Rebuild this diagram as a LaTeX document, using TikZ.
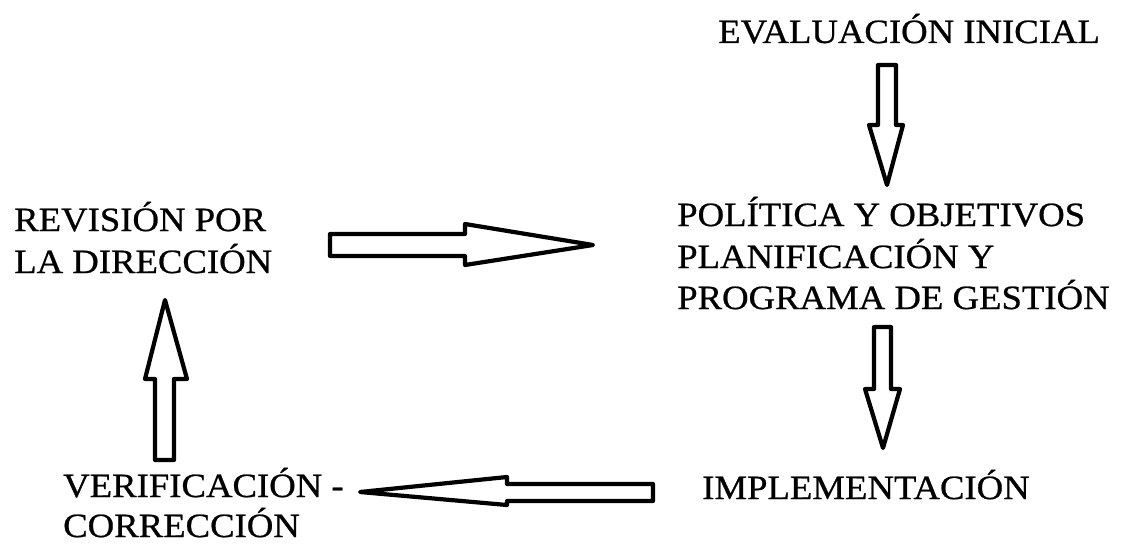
\documentclass[tikz,border=0pt]{standalone}
\usepackage{fontspec}
\setmainfont[FakeStretch=1.08,FakeBold=0.7]{Liberation Serif}
\begin{document}
\begin{tikzpicture}[x=1pt,y=-1pt,
  lbl/.style={anchor=base west,inner sep=0pt,font=\fontsize{34}{41}\selectfont},
  blockarrow/.style={draw=black,fill=white,line width=4.2pt,line join=round}]
\useasboundingbox (0,0) rectangle (1126,543);
% texts
\node[lbl] (eval) at (718,43) {EVALUACIÓN INICIAL};
\node[lbl] (rev1) at (14,231) {REVISIÓN POR};
\node[lbl] (rev2) at (14,273) {LA DIRECCIÓN};
\node[lbl] (pol1) at (677,226) {POLÍTICA Y OBJETIVOS};
\node[lbl] (pol2) at (677,268) {PLANIFICACIÓN Y};
\node[lbl] (pol3) at (677,309) {PROGRAMA DE GESTIÓN};
\node[lbl] (impl) at (702,499) {IMPLEMENTACIÓN};
\node[lbl] (ver1) at (63,497) {VERIFICACIÓN -};
\node[lbl] (ver2) at (63,537) {CORRECCIÓN};
% block arrows
% down arrow (evaluacion -> politica)
\draw[blockarrow] (878,65) -- (896,65) -- (896,125) -- (903,125) -- (887,185)
  -- (869,125) -- (878,125) -- cycle;
% right arrow (revision -> politica)
\draw[blockarrow] (330,234) -- (465,234) -- (465,224) -- (593,245)
  -- (465,265) -- (465,256) -- (330,256) -- cycle;
% down arrow (politica -> implementacion)
\draw[blockarrow] (874,327) -- (891,327) -- (891,389) -- (900,389) -- (883,448)
  -- (865,389) -- (874,389) -- cycle;
% left arrow (implementacion -> verificacion)
\draw[blockarrow] (653,484) -- (507,484) -- (507,477) -- (360,492)
  -- (507,505) -- (507,501) -- (653,501) -- cycle;
% up arrow (verificacion -> revision)
\draw[blockarrow] (155,460) -- (174,460) -- (174,379) -- (187,379) -- (165,300)
  -- (145,379) -- (155,379) -- cycle;
\end{tikzpicture}
\end{document}
